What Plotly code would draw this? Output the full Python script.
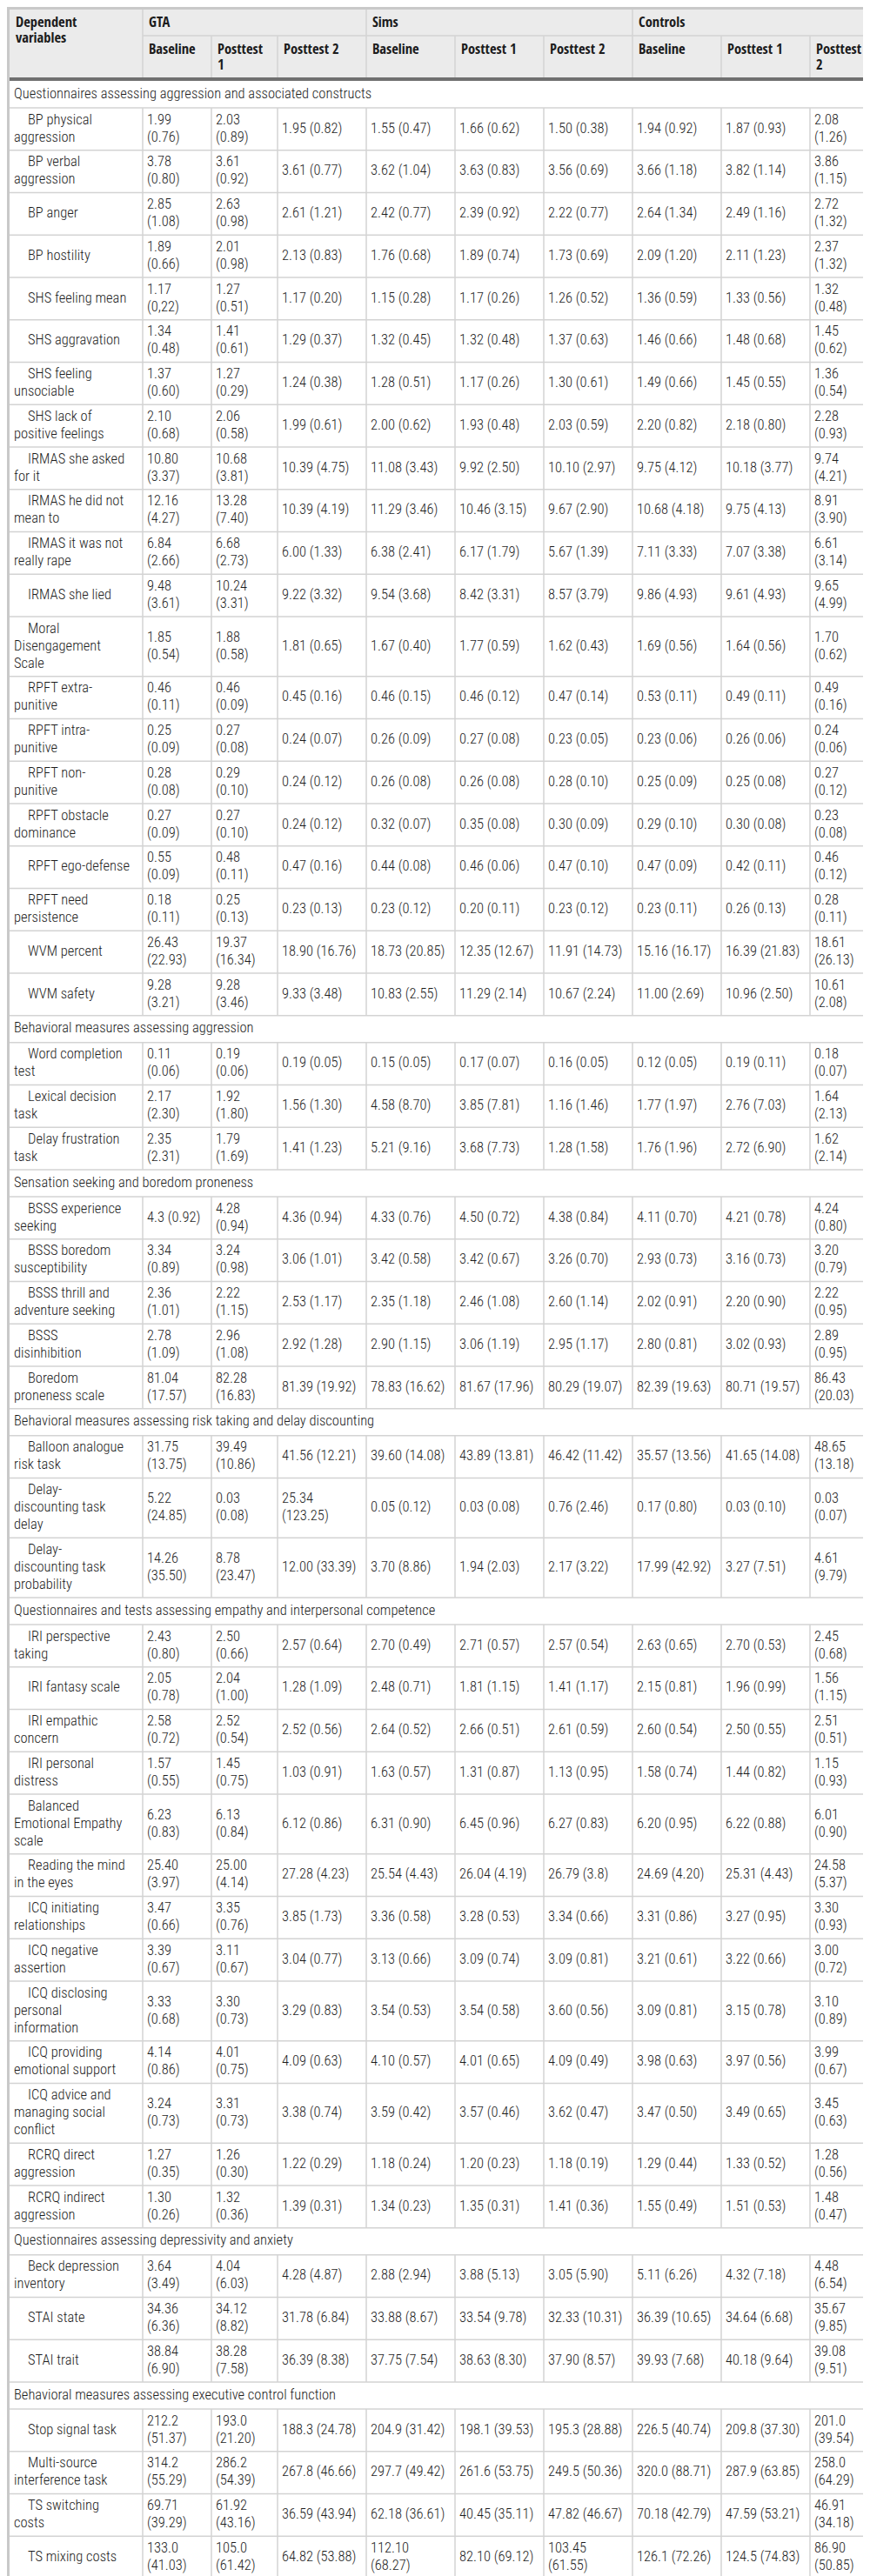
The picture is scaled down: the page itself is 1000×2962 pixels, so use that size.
import plotly.graph_objects as go

BODY_FONT = "Roboto Condensed, Open Sans, sans-serif"
HEAD_FONT = "Open Sans Condensed, Roboto Condensed, sans-serif"
TEXT = "#1c1c1c"

stub_title = "Dependent variables"
groups = ["GTA", "Sims", "Controls"]
phases = ["Baseline", "Posttest 1", "Posttest 2"]

sections = [
    "Questionnaires assessing aggression and associated constructs",
    "Behavioral measures assessing aggression",
    "Sensation seeking and boredom proneness",
    "Behavioral measures assessing risk taking and delay discounting",
    "Questionnaires and tests assessing empathy and interpersonal competence",
    "Questionnaires assessing depressivity and anxiety",
    "Behavioral measures assessing executive control function",
]

# per section: row labels ("\n" = where the label wraps) and M (SD) per column
# column order: GTA baseline, post 1, post 2, Sims baseline, post 1, post 2, Controls baseline, post 1, post 2
aggression_labels = [
    "BP physical\naggression", "BP verbal\naggression", "BP anger", "BP hostility",
    "SHS feeling mean", "SHS aggravation", "SHS feeling\nunsociable", "SHS lack of\npositive feelings",
    "IRMAS she asked\nfor it", "IRMAS he did not\nmean to", "IRMAS it was not\nreally rape", "IRMAS she lied",
    "Moral\nDisengagement\nScale", "RPFT extra-\npunitive", "RPFT intra-\npunitive", "RPFT non-\npunitive",
    "RPFT obstacle\ndominance", "RPFT ego-defense", "RPFT need\npersistence", "WVM percent", "WVM safety",
]
aggression_values = [
    ["1.99 (0.76)", "2.03 (0.89)", "1.95 (0.82)", "1.55 (0.47)", "1.66 (0.62)", "1.50 (0.38)", "1.94 (0.92)", "1.87 (0.93)", "2.08 (1.26)"],
    ["3.78 (0.80)", "3.61 (0.92)", "3.61 (0.77)", "3.62 (1.04)", "3.63 (0.83)", "3.56 (0.69)", "3.66 (1.18)", "3.82 (1.14)", "3.86 (1.15)"],
    ["2.85 (1.08)", "2.63 (0.98)", "2.61 (1.21)", "2.42 (0.77)", "2.39 (0.92)", "2.22 (0.77)", "2.64 (1.34)", "2.49 (1.16)", "2.72 (1.32)"],
    ["1.89 (0.66)", "2.01 (0.98)", "2.13 (0.83)", "1.76 (0.68)", "1.89 (0.74)", "1.73 (0.69)", "2.09 (1.20)", "2.11 (1.23)", "2.37 (1.32)"],
    ["1.17 (0,22)", "1.27 (0.51)", "1.17 (0.20)", "1.15 (0.28)", "1.17 (0.26)", "1.26 (0.52)", "1.36 (0.59)", "1.33 (0.56)", "1.32 (0.48)"],
    ["1.34 (0.48)", "1.41 (0.61)", "1.29 (0.37)", "1.32 (0.45)", "1.32 (0.48)", "1.37 (0.63)", "1.46 (0.66)", "1.48 (0.68)", "1.45 (0.62)"],
    ["1.37 (0.60)", "1.27 (0.29)", "1.24 (0.38)", "1.28 (0.51)", "1.17 (0.26)", "1.30 (0.61)", "1.49 (0.66)", "1.45 (0.55)", "1.36 (0.54)"],
    ["2.10 (0.68)", "2.06 (0.58)", "1.99 (0.61)", "2.00 (0.62)", "1.93 (0.48)", "2.03 (0.59)", "2.20 (0.82)", "2.18 (0.80)", "2.28 (0.93)"],
    ["10.80 (3.37)", "10.68 (3.81)", "10.39 (4.75)", "11.08 (3.43)", "9.92 (2.50)", "10.10 (2.97)", "9.75 (4.12)", "10.18 (3.77)", "9.74 (4.21)"],
    ["12.16 (4.27)", "13.28 (7.40)", "10.39 (4.19)", "11.29 (3.46)", "10.46 (3.15)", "9.67 (2.90)", "10.68 (4.18)", "9.75 (4.13)", "8.91 (3.90)"],
    ["6.84 (2.66)", "6.68 (2.73)", "6.00 (1.33)", "6.38 (2.41)", "6.17 (1.79)", "5.67 (1.39)", "7.11 (3.33)", "7.07 (3.38)", "6.61 (3.14)"],
    ["9.48 (3.61)", "10.24 (3.31)", "9.22 (3.32)", "9.54 (3.68)", "8.42 (3.31)", "8.57 (3.79)", "9.86 (4.93)", "9.61 (4.93)", "9.65 (4.99)"],
    ["1.85 (0.54)", "1.88 (0.58)", "1.81 (0.65)", "1.67 (0.40)", "1.77 (0.59)", "1.62 (0.43)", "1.69 (0.56)", "1.64 (0.56)", "1.70 (0.62)"],
    ["0.46 (0.11)", "0.46 (0.09)", "0.45 (0.16)", "0.46 (0.15)", "0.46 (0.12)", "0.47 (0.14)", "0.53 (0.11)", "0.49 (0.11)", "0.49 (0.16)"],
    ["0.25 (0.09)", "0.27 (0.08)", "0.24 (0.07)", "0.26 (0.09)", "0.27 (0.08)", "0.23 (0.05)", "0.23 (0.06)", "0.26 (0.06)", "0.24 (0.06)"],
    ["0.28 (0.08)", "0.29 (0.10)", "0.24 (0.12)", "0.26 (0.08)", "0.26 (0.08)", "0.28 (0.10)", "0.25 (0.09)", "0.25 (0.08)", "0.27 (0.12)"],
    ["0.27 (0.09)", "0.27 (0.10)", "0.24 (0.12)", "0.32 (0.07)", "0.35 (0.08)", "0.30 (0.09)", "0.29 (0.10)", "0.30 (0.08)", "0.23 (0.08)"],
    ["0.55 (0.09)", "0.48 (0.11)", "0.47 (0.16)", "0.44 (0.08)", "0.46 (0.06)", "0.47 (0.10)", "0.47 (0.09)", "0.42 (0.11)", "0.46 (0.12)"],
    ["0.18 (0.11)", "0.25 (0.13)", "0.23 (0.13)", "0.23 (0.12)", "0.20 (0.11)", "0.23 (0.12)", "0.23 (0.11)", "0.26 (0.13)", "0.28 (0.11)"],
    ["26.43 (22.93)", "19.37 (16.34)", "18.90 (16.76)", "18.73 (20.85)", "12.35 (12.67)", "11.91 (14.73)", "15.16 (16.17)", "16.39 (21.83)", "18.61 (26.13)"],
    ["9.28 (3.21)", "9.28 (3.46)", "9.33 (3.48)", "10.83 (2.55)", "11.29 (2.14)", "10.67 (2.24)", "11.00 (2.69)", "10.96 (2.50)", "10.61 (2.08)"],
]

behav_aggr_labels = ["Word completion\ntest", "Lexical decision\ntask", "Delay frustration\ntask"]
behav_aggr_values = [
    ["0.11 (0.06)", "0.19 (0.06)", "0.19 (0.05)", "0.15 (0.05)", "0.17 (0.07)", "0.16 (0.05)", "0.12 (0.05)", "0.19 (0.11)", "0.18 (0.07)"],
    ["2.17 (2.30)", "1.92 (1.80)", "1.56 (1.30)", "4.58 (8.70)", "3.85 (7.81)", "1.16 (1.46)", "1.77 (1.97)", "2.76 (7.03)", "1.64 (2.13)"],
    ["2.35 (2.31)", "1.79 (1.69)", "1.41 (1.23)", "5.21 (9.16)", "3.68 (7.73)", "1.28 (1.58)", "1.76 (1.96)", "2.72 (6.90)", "1.62 (2.14)"],
]

sensation_labels = [
    "BSSS experience\nseeking", "BSSS boredom\nsusceptibility", "BSSS thrill and\nadventure seeking",
    "BSSS\ndisinhibition", "Boredom\nproneness scale",
]
sensation_values = [
    ["4.3 (0.92)", "4.28 (0.94)", "4.36 (0.94)", "4.33 (0.76)", "4.50 (0.72)", "4.38 (0.84)", "4.11 (0.70)", "4.21 (0.78)", "4.24 (0.80)"],
    ["3.34 (0.89)", "3.24 (0.98)", "3.06 (1.01)", "3.42 (0.58)", "3.42 (0.67)", "3.26 (0.70)", "2.93 (0.73)", "3.16 (0.73)", "3.20 (0.79)"],
    ["2.36 (1.01)", "2.22 (1.15)", "2.53 (1.17)", "2.35 (1.18)", "2.46 (1.08)", "2.60 (1.14)", "2.02 (0.91)", "2.20 (0.90)", "2.22 (0.95)"],
    ["2.78 (1.09)", "2.96 (1.08)", "2.92 (1.28)", "2.90 (1.15)", "3.06 (1.19)", "2.95 (1.17)", "2.80 (0.81)", "3.02 (0.93)", "2.89 (0.95)"],
    ["81.04 (17.57)", "82.28 (16.83)", "81.39 (19.92)", "78.83 (16.62)", "81.67 (17.96)", "80.29 (19.07)", "82.39 (19.63)", "80.71 (19.57)", "86.43 (20.03)"],
]

risk_labels = ["Balloon analogue\nrisk task", "Delay-\ndiscounting task\ndelay", "Delay-\ndiscounting task\nprobability"]
risk_values = [
    ["31.75 (13.75)", "39.49 (10.86)", "41.56 (12.21)", "39.60 (14.08)", "43.89 (13.81)", "46.42 (11.42)", "35.57 (13.56)", "41.65 (14.08)", "48.65 (13.18)"],
    ["5.22 (24.85)", "0.03 (0.08)", "25.34 (123.25)", "0.05 (0.12)", "0.03 (0.08)", "0.76 (2.46)", "0.17 (0.80)", "0.03 (0.10)", "0.03 (0.07)"],
    ["14.26 (35.50)", "8.78 (23.47)", "12.00 (33.39)", "3.70 (8.86)", "1.94 (2.03)", "2.17 (3.22)", "17.99 (42.92)", "3.27 (7.51)", "4.61 (9.79)"],
]

empathy_labels = [
    "IRI perspective\ntaking", "IRI fantasy scale", "IRI empathic\nconcern", "IRI personal\ndistress",
    "Balanced\nEmotional Empathy\nscale", "Reading the mind\nin the eyes", "ICQ initiating\nrelationships",
    "ICQ negative\nassertion", "ICQ disclosing\npersonal\ninformation", "ICQ providing\nemotional support",
    "ICQ advice and\nmanaging social\nconflict", "RCRQ direct\naggression", "RCRQ indirect\naggression",
]
empathy_values = [
    ["2.43 (0.80)", "2.50 (0.66)", "2.57 (0.64)", "2.70 (0.49)", "2.71 (0.57)", "2.57 (0.54)", "2.63 (0.65)", "2.70 (0.53)", "2.45 (0.68)"],
    ["2.05 (0.78)", "2.04 (1.00)", "1.28 (1.09)", "2.48 (0.71)", "1.81 (1.15)", "1.41 (1.17)", "2.15 (0.81)", "1.96 (0.99)", "1.56 (1.15)"],
    ["2.58 (0.72)", "2.52 (0.54)", "2.52 (0.56)", "2.64 (0.52)", "2.66 (0.51)", "2.61 (0.59)", "2.60 (0.54)", "2.50 (0.55)", "2.51 (0.51)"],
    ["1.57 (0.55)", "1.45 (0.75)", "1.03 (0.91)", "1.63 (0.57)", "1.31 (0.87)", "1.13 (0.95)", "1.58 (0.74)", "1.44 (0.82)", "1.15 (0.93)"],
    ["6.23 (0.83)", "6.13 (0.84)", "6.12 (0.86)", "6.31 (0.90)", "6.45 (0.96)", "6.27 (0.83)", "6.20 (0.95)", "6.22 (0.88)", "6.01 (0.90)"],
    ["25.40 (3.97)", "25.00 (4.14)", "27.28 (4.23)", "25.54 (4.43)", "26.04 (4.19)", "26.79 (3.8)", "24.69 (4.20)", "25.31 (4.43)", "24.58 (5.37)"],
    ["3.47 (0.66)", "3.35 (0.76)", "3.85 (1.73)", "3.36 (0.58)", "3.28 (0.53)", "3.34 (0.66)", "3.31 (0.86)", "3.27 (0.95)", "3.30 (0.93)"],
    ["3.39 (0.67)", "3.11 (0.67)", "3.04 (0.77)", "3.13 (0.66)", "3.09 (0.74)", "3.09 (0.81)", "3.21 (0.61)", "3.22 (0.66)", "3.00 (0.72)"],
    ["3.33 (0.68)", "3.30 (0.73)", "3.29 (0.83)", "3.54 (0.53)", "3.54 (0.58)", "3.60 (0.56)", "3.09 (0.81)", "3.15 (0.78)", "3.10 (0.89)"],
    ["4.14 (0.86)", "4.01 (0.75)", "4.09 (0.63)", "4.10 (0.57)", "4.01 (0.65)", "4.09 (0.49)", "3.98 (0.63)", "3.97 (0.56)", "3.99 (0.67)"],
    ["3.24 (0.73)", "3.31 (0.73)", "3.38 (0.74)", "3.59 (0.42)", "3.57 (0.46)", "3.62 (0.47)", "3.47 (0.50)", "3.49 (0.65)", "3.45 (0.63)"],
    ["1.27 (0.35)", "1.26 (0.30)", "1.22 (0.29)", "1.18 (0.24)", "1.20 (0.23)", "1.18 (0.19)", "1.29 (0.44)", "1.33 (0.52)", "1.28 (0.56)"],
    ["1.30 (0.26)", "1.32 (0.36)", "1.39 (0.31)", "1.34 (0.23)", "1.35 (0.31)", "1.41 (0.36)", "1.55 (0.49)", "1.51 (0.53)", "1.48 (0.47)"],
]

mood_labels = ["Beck depression\ninventory", "STAI state", "STAI trait"]
mood_values = [
    ["3.64 (3.49)", "4.04 (6.03)", "4.28 (4.87)", "2.88 (2.94)", "3.88 (5.13)", "3.05 (5.90)", "5.11 (6.26)", "4.32 (7.18)", "4.48 (6.54)"],
    ["34.36 (6.36)", "34.12 (8.82)", "31.78 (6.84)", "33.88 (8.67)", "33.54 (9.78)", "32.33 (10.31)", "36.39 (10.65)", "34.64 (6.68)", "35.67 (9.85)"],
    ["38.84 (6.90)", "38.28 (7.58)", "36.39 (8.38)", "37.75 (7.54)", "38.63 (8.30)", "37.90 (8.57)", "39.93 (7.68)", "40.18 (9.64)", "39.08 (9.51)"],
]

exec_labels = ["Stop signal task", "Multi-source\ninterference task", "TS switching\ncosts", "TS mixing costs"]
exec_values = [
    ["212.2 (51.37)", "193.0 (21.20)", "188.3 (24.78)", "204.9 (31.42)", "198.1 (39.53)", "195.3 (28.88)", "226.5 (40.74)", "209.8 (37.30)", "201.0 (39.54)"],
    ["314.2 (55.29)", "286.2 (54.39)", "267.8 (46.66)", "297.7 (49.42)", "261.6 (53.75)", "249.5 (50.36)", "320.0 (88.71)", "287.9 (63.85)", "258.0 (64.29)"],
    ["69.71 (39.29)", "61.92 (43.16)", "36.59 (43.94)", "62.18 (36.61)", "40.45 (35.11)", "47.82 (46.67)", "70.18 (42.79)", "47.59 (53.21)", "46.91 (34.18)"],
    ["133.0 (41.03)", "105.0 (61.42)", "64.82 (53.88)", "112.10 (68.27)", "82.10 (69.12)", "103.45 (61.55)", "126.1 (72.26)", "124.5 (74.83)", "86.90 (50.85)"],
]

blocks = list(zip(
    sections,
    [aggression_labels, behav_aggr_labels, sensation_labels, risk_labels, empathy_labels, mood_labels, exec_labels],
    [aggression_values, behav_aggr_values, sensation_values, risk_values, empathy_values, mood_values, exec_values],
))

# ---- geometry (pixels, y grows downwards) ----
W, H = 1000, 2962
edge = 3
col_w = [153, 79, 76, 102, 102, 102, 102, 102, 102, 74]
xs = [edge]
for w in col_w:
    xs.append(xs[-1] + w)

line_h = 20
row_pad = 8.75
sec_h = 31
head1, head2, thick = 33, 81, 85
pad = 5


def wrap(text, width):
    # a cell breaks at its space when the text does not fit the column
    if len(text) > int((width - 12) / 6.7) and " " in text:
        return text.split(" ", 1)
    return [text]


grid = "#d3d3d3"
lines_x, lines_y = [], []


def seg(x0, y0, x1, y1):
    lines_x.extend([x0, x1, None])
    lines_y.extend([y0, y1, None])


body_x, body_y, body_t = [], [], []
head_x, head_y, head_t = [], [], []

# header
head_x += [xs[0] + 7, xs[0] + 7]
head_y += [19, 37]
head_t += stub_title.split(" ")
for g, name in enumerate(groups):
    head_x.append(xs[1 + 3 * g] + 7)
    head_y.append(19)
    head_t.append(name)
    for p, ph in enumerate(phases):
        c = 1 + 3 * g + p
        for k, part in enumerate(wrap(ph, col_w[c])):
            head_x.append(xs[c] + 7)
            head_y.append(50 + 18 * k)
            head_t.append(part)

seg(xs[1], head1, xs[-1], head1)
for g in range(3):
    seg(xs[1 + 3 * g], edge, xs[1 + 3 * g], head1)
for c in range(1, len(xs) - 1):
    seg(xs[c], head1, xs[c], head2)

# body
y = thick
for title, labels, values in blocks:
    body_x.append(xs[0] + 5)
    body_y.append(y + sec_h / 2)
    body_t.append(title)
    y += sec_h
    seg(xs[0], y, xs[-1], y)
    for label, row in zip(labels, values):
        label_lines = label.split("\n")
        cells = [wrap(v, col_w[c + 1]) for c, v in enumerate(row)]
        n = max([len(label_lines)] + [len(cl) for cl in cells])
        h = n * line_h + row_pad
        mid = y + h / 2
        for k, part in enumerate(label_lines):
            body_x.append(xs[0] + 5 + (16 if k == 0 else 0))
            body_y.append(mid + (k - (len(label_lines) - 1) / 2) * line_h)
            body_t.append(part)
        for c, cl in enumerate(cells):
            for k, part in enumerate(cl):
                body_x.append(xs[c + 1] + pad)
                body_y.append(mid + (k - (len(cl) - 1) / 2) * line_h)
                body_t.append(part)
        for c in range(1, len(xs) - 1):
            seg(xs[c], y, xs[c], y + h)
        y += h
        seg(xs[0], y, xs[-1], y)

fig = go.Figure()
fig.add_trace(go.Scatter(x=lines_x, y=lines_y, mode="lines", line=dict(color=grid, width=1.5),
                         hoverinfo="skip", showlegend=False))
fig.add_trace(go.Scatter(x=body_x, y=body_y, text=body_t, mode="text", textposition="middle right",
                         textfont=dict(family=BODY_FONT, size=16.5, color=TEXT, weight=300),
                         hoverinfo="skip", showlegend=False))
fig.add_trace(go.Scatter(x=head_x, y=head_y, text=head_t, mode="text", textposition="middle right",
                         textfont=dict(family=HEAD_FONT, size=16.5, color=TEXT, weight=700),
                         hoverinfo="skip", showlegend=False))

fig.update_layout(
    width=W, height=H,
    margin=dict(l=0, r=0, t=0, b=0),
    paper_bgcolor="#c9c9c9",
    plot_bgcolor="#c9c9c9",
    xaxis=dict(range=[0, W], visible=False, fixedrange=True),
    yaxis=dict(range=[H, 0], visible=False, fixedrange=True),
    shapes=[
        dict(type="rect", xref="x", yref="y", x0=edge, x1=W - edge, y0=edge, y1=y, layer="below",
             fillcolor="white", line=dict(width=0)),
        dict(type="rect", xref="x", yref="y", x0=edge, x1=W - edge, y0=edge, y1=thick - 2, layer="below",
             fillcolor="#ebebeb", line=dict(width=0)),
        dict(type="line", xref="x", yref="y", x0=edge, x1=W - edge, y0=thick - 2, y1=thick - 2,
             line=dict(color="#707070", width=4)),
    ],
)

fig.write_html("out.html")
